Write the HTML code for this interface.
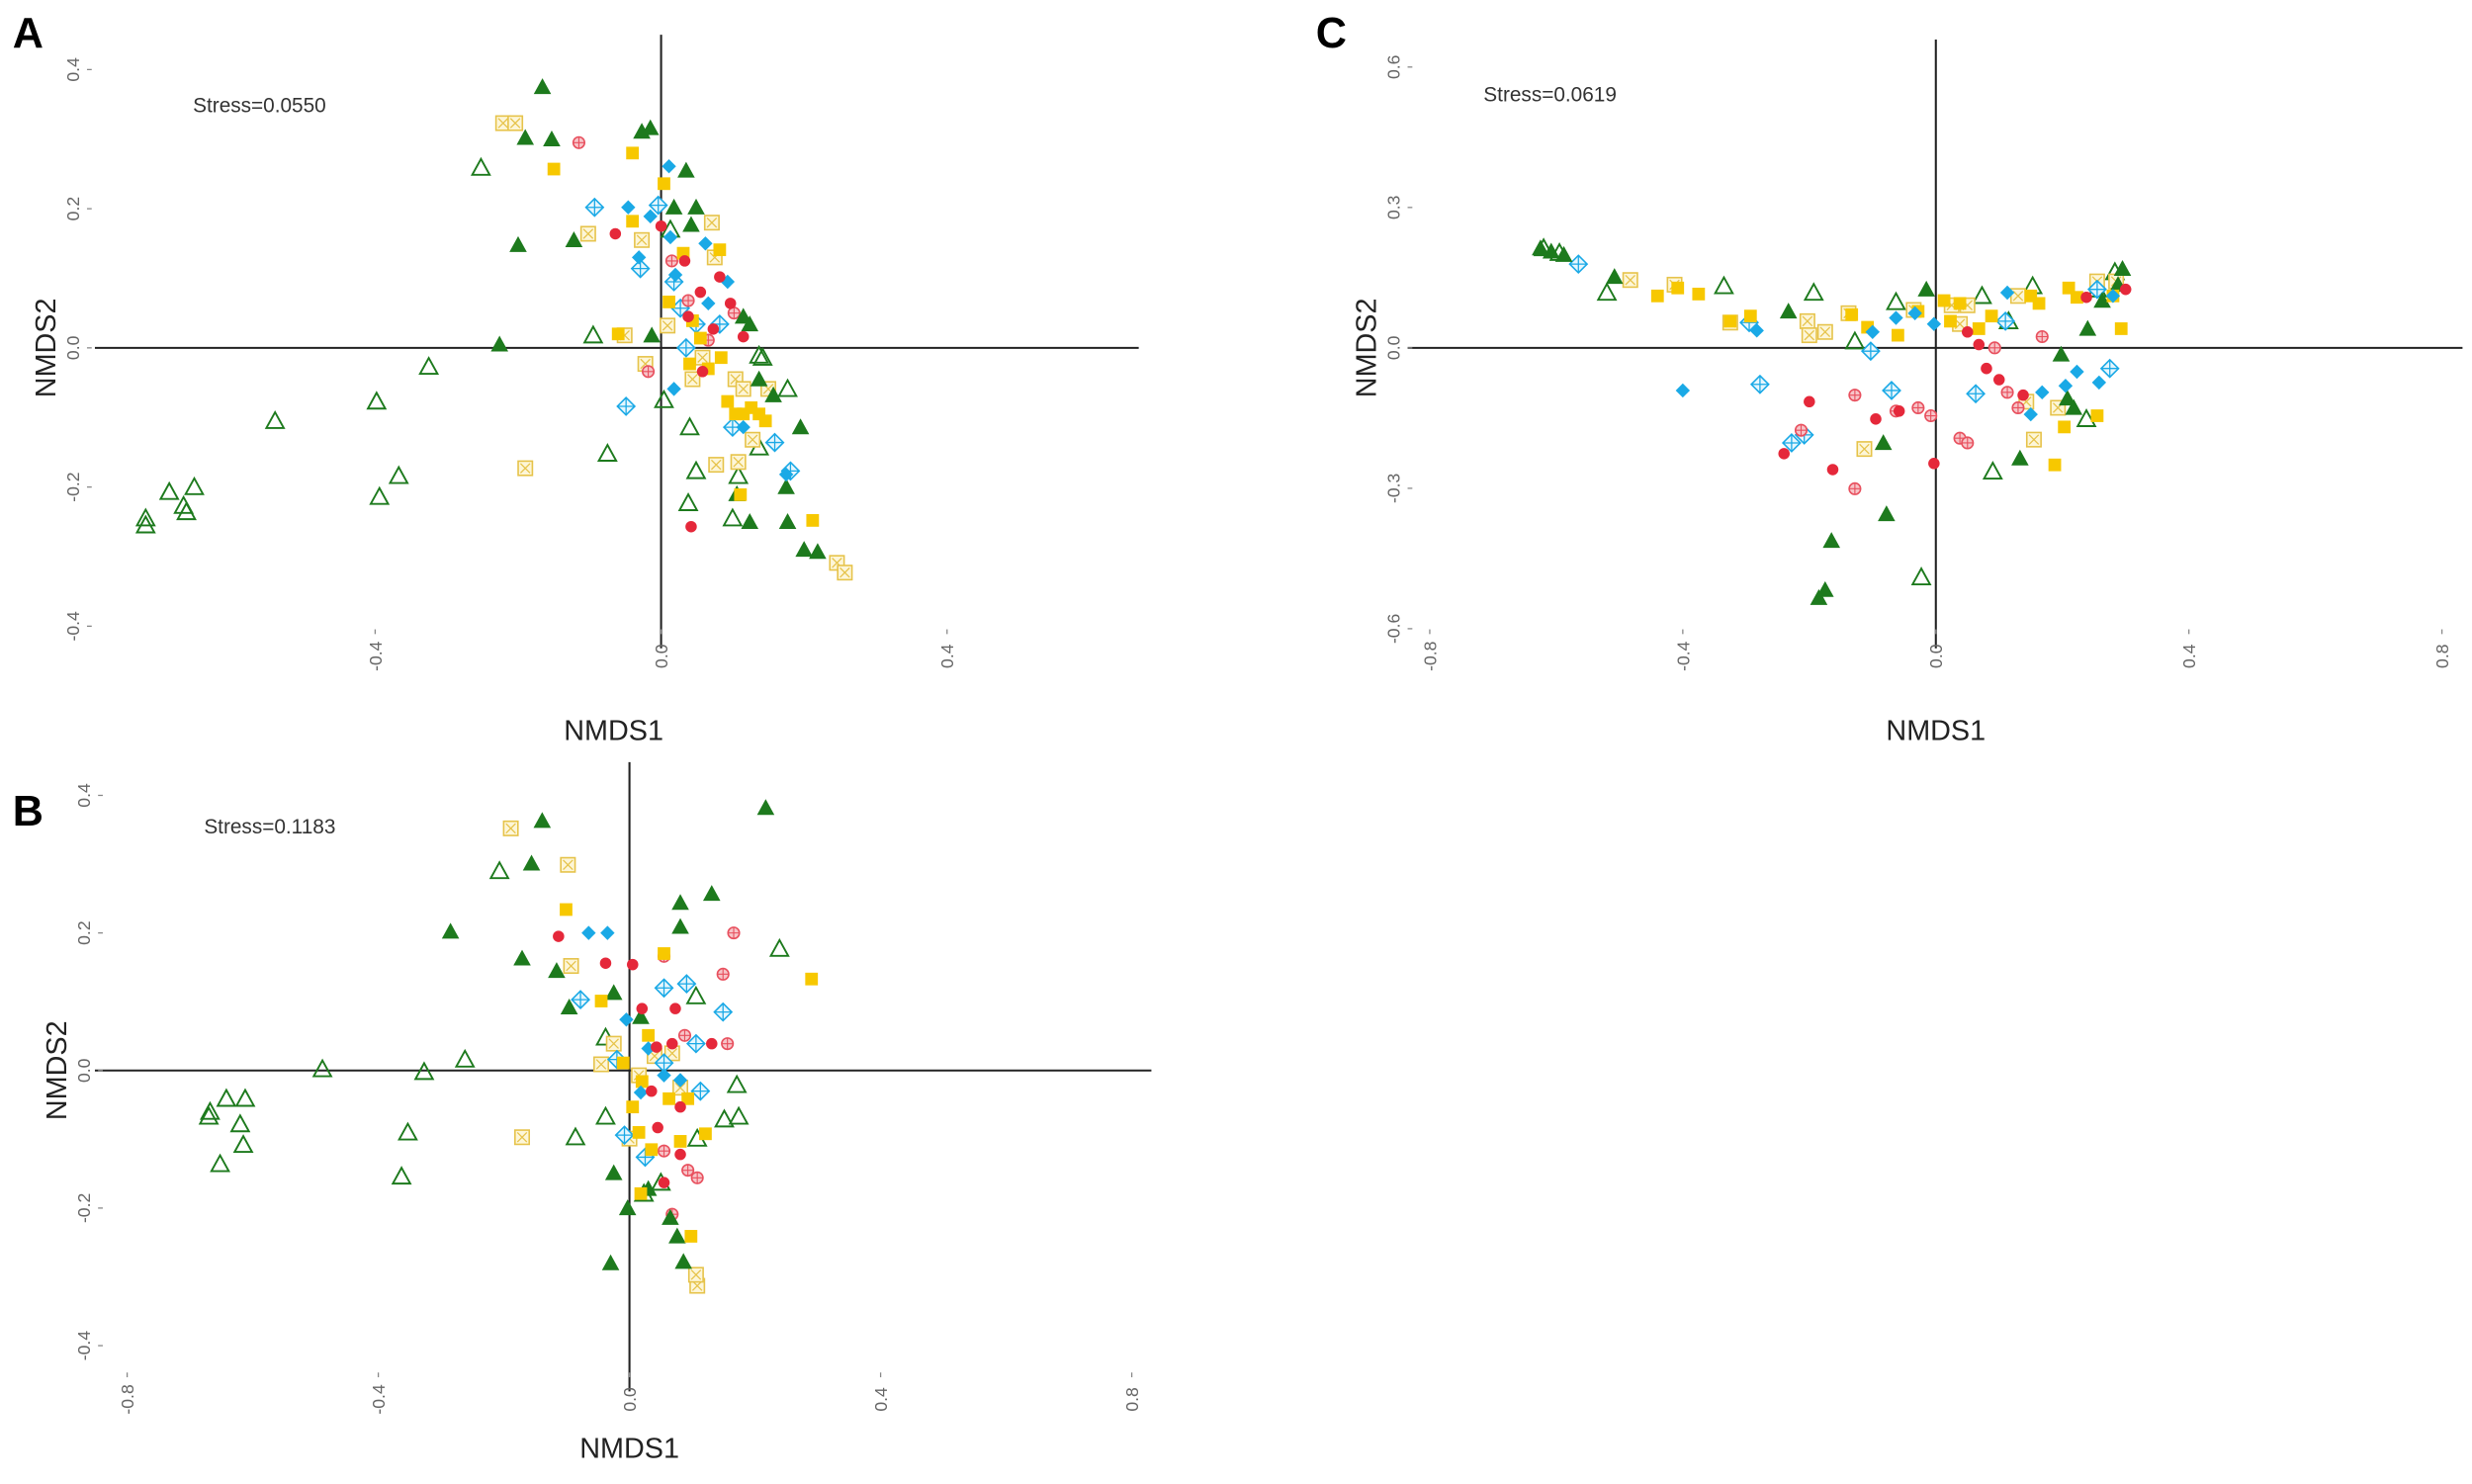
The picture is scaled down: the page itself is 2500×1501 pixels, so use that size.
<!DOCTYPE html>
<html><head><meta charset="utf-8">
<style>
html,body{margin:0;padding:0;background:#fff;}
svg{display:block;}
text{font-family:"Liberation Sans",Arial,sans-serif;}
</style></head>
<body>
<svg id="chart" xmlns="http://www.w3.org/2000/svg" width="2500" height="1501" viewBox="0 0 1563 938.5" preserveAspectRatio="none">
<rect width="1563" height="938.5" fill="#fff"/>
<text x="8" y="30" font-size="27" font-weight="bold">A</text>
<text x="8" y="522" font-size="27" font-weight="bold">B</text>
<text x="832" y="30" font-size="27" font-weight="bold">C</text>
<text x="122" y="71" font-size="13" fill="#333">Stress=0.0550</text>
<text x="129" y="527" font-size="13" fill="#333">Stress=0.1183</text>
<text x="938" y="64" font-size="13" fill="#333">Stress=0.0619</text>
<g id="layer"></g>
</svg>
<script>
// ---------- Panel A data ----------
const aTickX=[-0.4,0.0,0.4];
const aTickY=[0.4,0.2,0.0,-0.2,-0.4];
const aGreenTri=[[-0.166,0.375],[-0.19,0.302],[-0.153,0.30],[-0.027,0.311],[-0.015,0.316],[-0.2,0.148],[-0.122,0.155],[0.035,0.255],[0.018,0.202],[0.049,0.202],[0.042,0.177],[-0.013,0.018],[-0.226,0.005],[0.115,0.045],[0.124,0.034],[0.195,-0.114],[0.175,-0.2],[0.124,-0.25],[0.177,-0.25],[0.2,-0.29],[0.219,-0.293],[0.137,-0.045],[0.157,-0.068],[0.106,-0.21]];
const aGreenOpen=[[-0.721,-0.245],[-0.721,-0.255],[-0.688,-0.207],[-0.668,-0.227],[-0.664,-0.236],[-0.653,-0.2],[-0.54,-0.105],[-0.398,-0.077],[-0.394,-0.214],[-0.367,-0.184],[-0.325,-0.027],[-0.252,0.259],[-0.095,0.018],[-0.075,-0.152],[0.004,-0.075],[0.013,0.17],[0.04,-0.114],[0.049,-0.177],[0.1,-0.245],[0.038,-0.223],[0.108,-0.184],[0.137,-0.011],[0.142,-0.014],[0.177,-0.059],[0.137,-0.143]];
const aYellowSq=[[-0.15,0.257],[-0.04,0.28],[0.004,0.236],[-0.04,0.182],[0.031,0.136],[0.082,0.141],[0.011,0.066],[0.044,0.039],[0.055,0.014],[-0.06,0.02],[0.093,-0.077],[0.104,-0.095],[0.115,-0.095],[0.126,-0.086],[0.137,-0.095],[0.146,-0.105],[0.111,-0.211],[0.212,-0.248],[0.04,-0.023],[0.066,-0.03],[0.084,-0.014]];
const aYellowOpen=[[-0.221,0.323],[-0.204,0.323],[-0.102,0.164],[0.071,0.18],[0.075,0.13],[-0.027,0.155],[-0.051,0.018],[0.044,-0.045],[0.058,-0.014],[0.104,-0.045],[0.115,-0.059],[0.15,-0.059],[0.128,-0.132],[0.077,-0.168],[0.108,-0.164],[-0.19,-0.173],[0.246,-0.309],[0.257,-0.323],[-0.022,-0.023],[0.009,0.032]];
const aCyanDia=[[0.011,0.261],[-0.046,0.202],[-0.015,0.189],[-0.031,0.13],[0.02,0.105],[0.013,0.159],[0.062,0.15],[0.093,0.095],[0.066,0.064],[0.018,-0.059],[0.115,-0.114],[0.175,-0.182]];
const aCyanOpen=[[-0.093,0.202],[-0.004,0.205],[-0.029,0.114],[0.018,0.095],[0.049,0.034],[0.082,0.034],[-0.049,-0.084],[0.1,-0.114],[0.159,-0.136],[0.181,-0.177],[0.027,0.057],[0.035,0]];
const aRedDot=[[-0.064,0.164],[0,0.175],[0.033,0.125],[0.055,0.08],[0.082,0.102],[0.097,0.064],[0.073,0.027],[0.115,0.016],[0.058,-0.034],[0.042,-0.257],[0.038,0.045]];
const aRedOpen=[[-0.115,0.295],[0.015,0.125],[0.038,0.068],[0.102,0.05],[0.066,0.011],[-0.018,-0.034]];
// ---------- Panel B data ----------
const bTickX=[-0.8,-0.4,0.0,0.4,0.8];
const bTickY=[0.4,0.2,0.0,-0.2,-0.4];
const bGreenTri=[[-0.139,0.363],[0.217,0.382],[-0.285,0.202],[-0.156,0.301],[-0.171,0.163],[-0.116,0.145],[0.081,0.244],[0.081,0.209],[0.131,0.257],[-0.025,0.113],[0.018,0.078],[-0.096,0.092],[-0.025,-0.149],[-0.003,-0.2],[0.076,-0.241],[0.086,-0.278],[-0.03,-0.28],[0.065,-0.214],[0.03,-0.172]];
const bGreenOpen=[[-0.67,-0.067],[-0.668,-0.06],[-0.642,-0.041],[-0.612,-0.041],[-0.62,-0.078],[-0.615,-0.108],[-0.652,-0.136],[-0.489,0.002],[-0.353,-0.09],[-0.363,-0.154],[-0.327,-0.002],[-0.262,0.016],[-0.207,0.29],[-0.086,-0.097],[-0.038,0.048],[-0.038,-0.067],[0.023,-0.179],[0.05,-0.163],[0.106,0.108],[0.108,-0.099],[0.151,-0.071],[0.174,-0.067],[0.171,-0.021],[0.239,0.177]];
const bYellowSq=[[-0.101,0.234],[-0.045,0.101],[0.03,0.051],[0.055,0.17],[-0.01,0.011],[0.02,-0.016],[0.063,-0.041],[0.005,-0.053],[0.015,-0.09],[0.035,-0.115],[0.093,-0.041],[0.081,-0.103],[0.121,-0.092],[0.018,-0.179],[0.098,-0.241],[0.29,0.133]];
const bYellowOpen=[[-0.189,0.352],[-0.098,0.299],[-0.093,0.152],[-0.171,-0.097],[-0.045,0.009],[-0.025,0.039],[0.015,-0.007],[0.04,0.021],[0.068,0.025],[0.081,-0.025],[0.108,-0.313],[0.106,-0.297],[0,-0.099]];
const bCyanDia=[[-0.065,0.2],[-0.035,0.2],[-0.005,0.074],[0.018,-0.032],[0.055,-0.007],[0.081,-0.014],[0.03,0.032]];
const bCyanOpen=[[-0.078,0.103],[0.055,0.12],[0.091,0.126],[0.149,0.085],[0.106,0.039],[0.113,-0.03],[-0.008,-0.094],[0.025,-0.126],[-0.02,0.016],[0.055,0.011]];
const bRedDot=[[-0.113,0.195],[-0.038,0.156],[0.02,0.09],[0.073,0.09],[0.043,0.034],[0.068,0.039],[0.005,0.154],[0.035,-0.03],[0.081,-0.053],[0.045,-0.083],[0.055,-0.163],[0.131,0.039],[0.081,-0.122]];
const bRedOpen=[[0.166,0.2],[0.149,0.14],[0.156,0.039],[0.055,0.166],[0.088,0.051],[0.055,-0.117],[0.093,-0.145],[0.068,-0.209],[0.108,-0.156]];
// ---------- Panel C data ----------
const cTickX=[-0.8,-0.4,0.0,0.4,0.8];
const cTickY=[0.6,0.3,0.0,-0.3,-0.6];
const cGreenTri=[[-0.625,0.213],[-0.608,0.206],[-0.588,0.199],[-0.508,0.152],[-0.015,0.125],[-0.233,0.078],[0.24,0.041],[0.288,0.135],[0.295,0.169],[0.263,0.101],[0.198,-0.014],[-0.083,-0.203],[-0.078,-0.355],[-0.165,-0.412],[-0.185,-0.534],[-0.175,-0.517],[0.133,-0.236],[0.218,-0.128],[0.208,-0.108]];
const cGreenOpen=[[-0.62,0.213],[-0.595,0.203],[-0.52,0.118],[-0.335,0.132],[-0.193,0.118],[-0.128,0.014],[-0.063,0.098],[0.073,0.111],[0.115,0.057],[0.153,0.132],[0.09,-0.264],[-0.023,-0.49],[0.238,-0.152],[0.283,0.162],[0.255,0.125]];
const cYellowSq=[[-0.44,0.111],[-0.408,0.128],[-0.375,0.115],[-0.325,0.057],[-0.293,0.068],[-0.133,0.071],[-0.108,0.044],[-0.06,0.027],[-0.028,0.078],[0.013,0.101],[0.038,0.095],[0.068,0.041],[0.088,0.068],[0.15,0.111],[0.163,0.095],[0.21,0.128],[0.223,0.108],[0.28,0.111],[0.293,0.041],[0.255,-0.145],[0.188,-0.25],[0.203,-0.169],[0.023,0.057]];
const cYellowOpen=[[-0.483,0.145],[-0.413,0.135],[-0.325,0.054],[-0.203,0.057],[-0.2,0.027],[-0.175,0.034],[-0.138,0.074],[-0.035,0.081],[0.025,0.091],[0.05,0.091],[0.038,0.051],[0.13,0.111],[0.143,-0.115],[0.155,-0.196],[0.193,-0.128],[0.255,0.142],[0.285,0.142],[-0.113,-0.216]];
const cCyanDia=[[-0.4,-0.091],[-0.283,0.037],[-0.1,0.034],[-0.063,0.064],[-0.033,0.074],[-0.003,0.051],[0.113,0.118],[0.15,-0.142],[0.168,-0.095],[0.205,-0.081],[0.223,-0.051],[0.258,-0.074],[0.28,0.111]];
const cCyanOpen=[[-0.565,0.179],[-0.295,0.054],[-0.278,-0.078],[-0.228,-0.203],[-0.208,-0.186],[-0.103,-0.007],[-0.07,-0.091],[0.063,-0.098],[0.11,0.057],[0.275,-0.044],[0.255,0.125]];
const cRedDot=[[-0.24,-0.226],[-0.2,-0.115],[-0.163,-0.26],[-0.095,-0.152],[-0.058,-0.135],[-0.003,-0.247],[0.05,0.034],[0.068,0.007],[0.08,-0.044],[0.1,-0.068],[0.138,-0.101],[0.238,0.108],[0.3,0.125]];
const cRedOpen=[[-0.213,-0.176],[-0.128,-0.301],[-0.128,-0.101],[-0.063,-0.135],[-0.028,-0.128],[-0.008,-0.145],[0.038,-0.193],[0.05,-0.203],[0.093,0],[0.113,-0.095],[0.13,-0.128],[0.168,0.024]];

const NS="http://www.w3.org/2000/svg";
const layer=document.getElementById('layer');
function mk(tag,attrs,parent){const e=document.createElementNS(NS,tag);for(const k in attrs)e.setAttribute(k,attrs[k]);(parent||layer).appendChild(e);return e;}

const GREEN="#1d7a1d",YEL="#f7c800",YELO="#e6c34a",CYAN="#1aa9e6",RED="#e5283a",REDO="#e8505e";

function drawMarker(g,type,cx,cy){
  let e;
  if(type==='tri'){e=mk('polygon',{points:`${cx},${cy-5.5} ${cx-5.5},${cy+4.5} ${cx+5.5},${cy+4.5}`,fill:GREEN},g);}
  else if(type==='triO'){e=mk('polygon',{points:`${cx},${cy-5.5} ${cx-5.5},${cy+4.5} ${cx+5.5},${cy+4.5}`,fill:'none',stroke:GREEN,'stroke-width':1.2},g);}
  else if(type==='sq'){e=mk('rect',{x:cx-4,y:cy-4,width:8,height:8,fill:YEL},g);}
  else if(type==='sqO'){e=mk('g',{},g);mk('rect',{x:cx-4.5,y:cy-4.5,width:9,height:9,fill:'#fdf6d8',stroke:YELO,'stroke-width':1},e);mk('path',{d:`M${cx-3},${cy-3}L${cx+3},${cy+3}M${cx+3},${cy-3}L${cx-3},${cy+3}`,stroke:YELO,'stroke-width':0.8},e);}
  else if(type==='dia'){e=mk('polygon',{points:`${cx},${cy-4.5} ${cx+4.5},${cy} ${cx},${cy+4.5} ${cx-4.5},${cy}`,fill:CYAN},g);}
  else if(type==='diaO'){e=mk('g',{},g);mk('polygon',{points:`${cx},${cy-5.5} ${cx+5.5},${cy} ${cx},${cy+5.5} ${cx-5.5},${cy}`,fill:'#e6f6fd',stroke:CYAN,'stroke-width':1},e);mk('path',{d:`M${cx},${cy-5.5}V${cy+5.5}M${cx-5.5},${cy}H${cx+5.5}`,stroke:CYAN,'stroke-width':0.8},e);}
  else if(type==='dot'){e=mk('circle',{cx:cx,cy:cy,r:3.6,fill:RED},g);}
  else if(type==='dotO'){e=mk('g',{},g);mk('circle',{cx:cx,cy:cy,r:3.6,fill:'#f7c4c8',stroke:REDO,'stroke-width':1},e);mk('path',{d:`M${cx},${cy-3.6}V${cy+3.6}M${cx-3.6},${cy}H${cx+3.6}`,stroke:REDO,'stroke-width':0.7},e);}
  return e;
}

function panel(name,cfg,series,ticksX,ticksY){
  const g=mk('g',{});
  
  
  const sx=v=>cfg.x0+cfg.kx*v, sy=v=>cfg.y0-cfg.ky*v;
  const h=mk('line',{x1:cfg.hx1,x2:cfg.hx2,y1:sy(0),y2:sy(0),stroke:'#222','stroke-width':1.3},g);
  
  
  const v=mk('line',{x1:sx(0),x2:sx(0),y1:cfg.vy1,y2:cfg.vy2,stroke:'#222','stroke-width':1.3},g);
  
  
  ticksY.forEach(t=>{
    const tx=mk('text',{x:0,y:0,'font-size':11,fill:'#666','text-anchor':'middle',transform:`translate(${cfg.ylx},${sy(t)}) rotate(-90)`},g);
    tx.textContent=t.toFixed(1);
    
    
    mk('line',{x1:cfg.ylx+5,x2:cfg.ylx+8,y1:sy(t),y2:sy(t),stroke:'#888','stroke-width':0.8},g);
  });
  ticksX.forEach(t=>{
    const tx=mk('text',{x:0,y:0,'font-size':11,fill:'#666','text-anchor':'middle',transform:`translate(${sx(t)+4},${cfg.xly}) rotate(-90)`},g);
    tx.textContent=t.toFixed(1);
    
    
    mk('line',{x1:sx(t),x2:sx(t),y1:cfg.xly-17,y2:cfg.xly-14,stroke:'#888','stroke-width':0.8},g);
  });
  const xt=mk('text',{x:sx(0)+cfg.xtdx,y:cfg.xty,'font-size':18,fill:'#222','text-anchor':'middle'},g);
  xt.textContent='NMDS1';
  
  
  const yt=mk('text',{x:0,y:0,'font-size':18,fill:'#222','text-anchor':'middle',transform:`translate(${cfg.ytx},${sy(0)}) rotate(-90)`},g);
  yt.textContent='NMDS2';
  
  
  series.forEach(([type,arr])=>{
    const sg=mk('g',{},g);
    
    
    arr.forEach(p=>{
      const m=drawMarker(sg,type,sx(p[0]),sy(p[1]));
      
      
    });
  });
}

panel('a',{x0:418,kx:452,y0:220,ky:440,hx1:60,hx2:720,vy1:22,vy2:410,ylx:50,xly:415,xty:468,xtdx:-30,ytx:35},
 [['triO',aGreenOpen],['sqO',aYellowOpen],['diaO',aCyanOpen],['dotO',aRedOpen],['tri',aGreenTri],['sq',aYellowSq],['dia',aCyanDia],['dot',aRedDot]],aTickX,aTickY);
panel('b',{x0:398,kx:397,y0:677,ky:435,hx1:60,hx2:728,vy1:482,vy2:880,ylx:57,xly:885,xty:922,xtdx:0,ytx:42},
 [['triO',bGreenOpen],['sqO',bYellowOpen],['diaO',bCyanOpen],['dotO',bRedOpen],['tri',bGreenTri],['sq',bYellowSq],['dia',bCyanDia],['dot',bRedDot]],bTickX,bTickY);
panel('c',{x0:1224,kx:400,y0:220,ky:296,hx1:890,hx2:1557,vy1:25,vy2:410,ylx:885,xly:415,xty:468,xtdx:0,ytx:870},
 [['triO',cGreenOpen],['sqO',cYellowOpen],['diaO',cCyanOpen],['dotO',cRedOpen],['tri',cGreenTri],['sq',cYellowSq],['dia',cCyanDia],['dot',cRedDot]],cTickX,cTickY);
</script>
</body></html>
